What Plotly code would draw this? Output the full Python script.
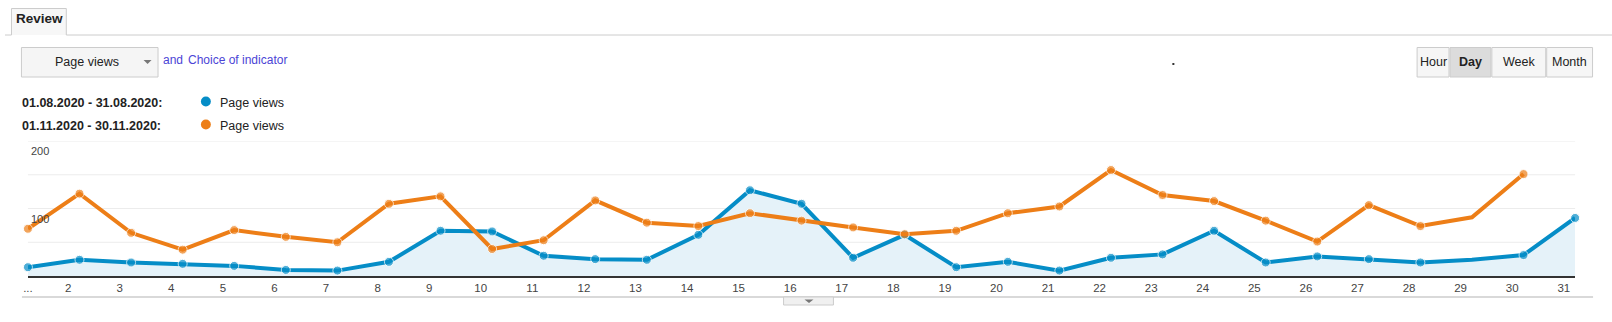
import plotly.graph_objects as go

# ---- data -------------------------------------------------------------
days = list(range(1, 32))
tick_labels = ["..."] + [str(d) for d in range(2, 32)]

# Page views, 01.08.2020 - 31.08.2020
aug_views = [13, 24, 20, 18, 15, 9, 8, 21, 67, 66, 30, 25, 24, 61, 127, 107,
             27, 61, 13, 21, 8, 27, 32, 67, 20, 29, 25, 20, 24, 31, 86]
# Page views, 01.11.2020 - 30.11.2020
nov_views = [70, 122, 64, 39, 68, 58, 50, 107, 118, 40, 53, 112, 79, 74, 93,
             82, 72, 62, 67, 93, 103, 157, 120, 111, 82, 51, 105, 74, 87, 151]

y_ticks = [100, 200]
grid_values = [50, 100, 150, 200]
period_labels = ["01.08.2020 - 31.08.2020:", "01.11.2020 - 30.11.2020:"]
metric_name = "Page views"

# ---- styling -----------------------------------------------------------
W, H = 1612, 322
BLUE = "#058dc7"
ORANGE = "#ed7e17"
FONT = "Liberation Sans, Arial, sans-serif"
GRID = "#ececec"
BORDER = "#cccccc"
TEXT = "#222222"


def px(x):
    return x / W


def py(y):
    return 1 - y / H


def label(text, x, y, size=12.5, color=TEXT, xanchor="center", yref="paper",
          yanchor="middle", **kw):
    return dict(text=text, xref="paper", yref=yref, x=x, y=y,
                xanchor=xanchor, yanchor=yanchor, showarrow=False,
                font=dict(family=FONT, size=size, color=color), **kw)


# day 29 is drawn without a point marker
blue_sizes = [0 if d == 29 else 9 for d in days]
orange_sizes = [0 if d == 29 else 9 for d in days[:len(nov_views)]]

fig = go.Figure()
fig.add_trace(go.Scatter(
    x=days, y=aug_views, mode="lines+markers",
    line=dict(color=BLUE, width=4),
    marker=dict(color=BLUE, size=blue_sizes),
    fill="tozeroy", fillcolor="#e5f2f9",
    cliponaxis=False, hoverinfo="skip", showlegend=False,
))
fig.add_trace(go.Scatter(
    x=days[:len(nov_views)], y=nov_views, mode="lines+markers",
    line=dict(color=ORANGE, width=4),
    marker=dict(color=ORANGE, size=orange_sizes),
    cliponaxis=False, hoverinfo="skip", showlegend=False,
))

shapes = []
annotations = []

# horizontal gridlines
for v in grid_values:
    shapes.append(dict(type="line", xref="paper", yref="y",
                       x0=px(23), x1=px(1575), y0=v, y1=v,
                       line=dict(color=GRID, width=1), layer="below"))

# tab strip with "Review" tab
shapes.append(dict(type="line", xref="paper", yref="paper",
                   x0=px(0), x1=px(6.5), y0=py(35), y1=py(35),
                   line=dict(color=BORDER, width=1)))
shapes.append(dict(type="line", xref="paper", yref="paper",
                   x0=px(61.5), x1=px(W), y0=py(35), y1=py(35),
                   line=dict(color=BORDER, width=1)))
shapes.append(dict(type="rect", xref="paper", yref="paper",
                   x0=px(6.5), x1=px(61.5), y0=py(35), y1=py(8.5),
                   fillcolor="#f7f7f7", line=dict(width=0), layer="below"))
shapes.append(dict(type="path", xref="paper", yref="paper",
                   path=f"M {px(6.5)} {py(35)} L {px(6.5)} {py(8.5)} "
                        f"L {px(61.5)} {py(8.5)} L {px(61.5)} {py(35)}",
                   line=dict(color=BORDER, width=1)))
annotations.append(label("<b>Review</b>", px(34.5), py(19), size=13.5))

# metric dropdown
shapes.append(dict(type="rect", xref="paper", yref="paper",
                   x0=px(16.5), x1=px(153.5), y0=py(77), y1=py(47.5),
                   fillcolor="#f5f5f5", line=dict(color=BORDER, width=1)))
annotations.append(label(metric_name, px(82), py(62)))
shapes.append(dict(type="path", xref="paper", yref="paper",
                   path=f"M {px(139)} {py(60)} L {px(147)} {py(60)} "
                        f"L {px(143)} {py(64)} Z",
                   fillcolor="#777", line=dict(width=0)))
annotations.append(label("and", px(156), py(60), size=12, color="#4b44d6",
                         xanchor="left"))
annotations.append(label("Choice of indicator", px(182), py(60), size=12,
                         color="#4b44d6", xanchor="left"))
shapes.append(dict(type="rect", xref="paper", yref="paper",
                   x0=px(1171), x1=px(1173), y0=py(65), y1=py(63),
                   fillcolor="#333", line=dict(width=0)))

# time granularity buttons
buttons = [("Hour", 1416, 1449, False), ("Day", 1449, 1491, True),
           ("Week", 1491, 1546, False), ("Month", 1546, 1593, False)]
for name, x0, x1, active in buttons:
    shapes.append(dict(type="rect", xref="paper", yref="paper",
                       x0=px(x0 + 0.5), x1=px(x1 - 0.5), y0=py(77), y1=py(47.5),
                       fillcolor="#dcdcdc" if active else "#f6f6f6",
                       line=dict(color=BORDER, width=1)))
    annotations.append(label(f"<b>{name}</b>" if active else name,
                             px((x0 + x1) / 2), py(62)))

# legend rows
for i, (period, colour) in enumerate(zip(period_labels, [BLUE, ORANGE])):
    yc = 102.5 + 23 * i
    annotations.append(label(f"<b>{period}</b>", px(15), py(yc),
                             xanchor="left"))
    shapes.append(dict(type="circle", xref="paper", yref="paper",
                       x0=px(196.5), x1=px(206.5),
                       y0=py(yc - 6), y1=py(yc + 4),
                       fillcolor=colour, line=dict(width=0)))
    annotations.append(label(metric_name, px(214), py(yc), xanchor="left"))

# value labels inside the plot, just under their gridlines
for v in y_ticks:
    annotations.append(label(str(v), px(24), v, size=11, color="#444",
                             xanchor="left", yref="y", yanchor="top",
                             yshift=-2))

# footer rule and collapse handle
shapes.append(dict(type="line", xref="paper", yref="paper",
                   x0=px(17), x1=px(1593), y0=py(297), y1=py(297),
                   line=dict(color=BORDER, width=1.5)))
shapes.append(dict(type="rect", xref="paper", yref="paper",
                   x0=px(781), x1=px(831), y0=py(305), y1=py(297),
                   fillcolor="#f0f0f0", line=dict(color=BORDER, width=1)))
shapes.append(dict(type="path", xref="paper", yref="paper",
                   path=f"M {px(802)} {py(299.5)} L {px(811)} {py(299.5)} "
                        f"L {px(806.5)} {py(303)} Z",
                   fillcolor="#777", line=dict(width=0)))

tickvals = [1] + [d - 0.22 for d in days[1:]]

fig.update_layout(
    width=W, height=H,
    margin=dict(l=0, r=0, t=0, b=0),
    paper_bgcolor="white", plot_bgcolor="white",
    font=dict(family=FONT, size=11.5, color="#444"),
    xaxis=dict(
        domain=[px(23), px(1575)], range=[1, 31],
        tickmode="array", tickvals=tickvals, ticktext=tick_labels,
        showgrid=False, zeroline=False, ticks="",
        showline=True, linecolor="#333", linewidth=2,
        tickfont=dict(family=FONT, size=11.5, color="#444"),
        fixedrange=True,
    ),
    yaxis=dict(
        domain=[py(276), py(141)], range=[0, 200],
        showgrid=False, showticklabels=False, zeroline=False, ticks="",
        fixedrange=True,
    ),
    shapes=shapes,
    annotations=annotations,
    hovermode=False,
)

fig.write_html("out.html", config={"displayModeBar": False})
